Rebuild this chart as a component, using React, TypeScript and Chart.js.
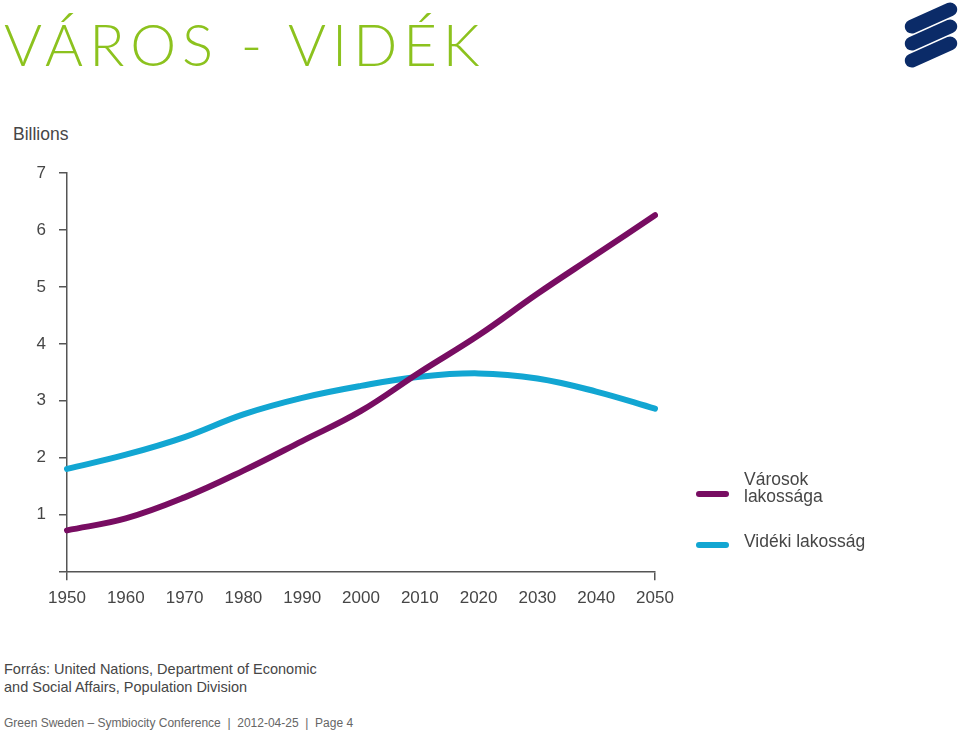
import React, { useEffect, useRef } from "react";
import { Chart, registerables } from "chart.js";

Chart.register(...registerables);

const years = ["1950", "1960", "1970", "1980", "1990", "2000", "2010", "2020", "2030", "2040", "2050"];
const urban = [0.72, 0.93, 1.3, 1.77, 2.29, 2.82, 3.5, 4.15, 4.88, 5.57, 6.26];
const rural = [1.8, 2.05, 2.36, 2.76, 3.05, 3.26, 3.42, 3.48, 3.39, 3.16, 2.86];
const yTicks = [0, 1, 2, 3, 4, 5, 6, 7];

const PURPLE = "#780d62";
const CYAN = "#12a6d2";
const AXIS = "#555555";
const TEXT = "#464646";
const FONT = "'Liberation Sans', Arial, sans-serif";

export default function App() {
  const ref = useRef<HTMLCanvasElement | null>(null);

  useEffect(() => {
    if (!ref.current) return;
    const chart = new Chart(ref.current, {
      type: "line",
      data: {
        labels: years,
        datasets: [
          {
            label: "Városok lakossága",
            data: urban,
            borderColor: PURPLE,
            borderWidth: 6,
            borderCapStyle: "round",
            pointRadius: 0,
            tension: 0.4,
            fill: false,
          },
          {
            label: "Vidéki lakosság",
            data: rural,
            borderColor: CYAN,
            borderWidth: 6,
            borderCapStyle: "round",
            pointRadius: 0,
            tension: 0.4,
            fill: false,
          },
        ],
      },
      options: {
        animation: false,
        responsive: false,
        maintainAspectRatio: false,
        layout: { padding: { top: 20, right: 45, left: 0, bottom: 0 } },
        plugins: { legend: { display: false }, tooltip: { enabled: false } },
        scales: {
          x: {
            type: "category",
            offset: false,
            border: { color: AXIS, width: 1.5 },
            grid: {
              drawOnChartArea: false,
              tickLength: 9,
              color: (ctx: any) => (ctx.index === 0 || ctx.index === years.length - 1 ? AXIS : "rgba(0,0,0,0)"),
              lineWidth: 1.5,
            },
            ticks: {
              color: TEXT,
              font: { family: FONT, size: 17 },
              padding: 8,
              maxRotation: 0,
              autoSkip: false,
            },
            afterFit: (scale: any) => {
              scale.height = 48.7;
            },
          },
          y: {
            min: yTicks[0],
            max: yTicks[yTicks.length - 1],
            border: { color: AXIS, width: 1.5 },
            grid: { drawOnChartArea: false, tickLength: 8, color: AXIS, lineWidth: 1.5 },
            ticks: {
              stepSize: 1,
              color: TEXT,
              font: { family: FONT, size: 17 },
              padding: 13,
              callback: (v: any) => (v === 0 ? "" : String(v)),
            },
            afterFit: (scale: any) => {
              scale.width = 67;
            },
          },
        },
      },
    });
    return () => chart.destroy();
  }, []);

  const bar = (top: number): React.CSSProperties => ({
    position: "absolute",
    left: 903,
    top,
    width: 56,
    height: 14,
    borderRadius: 7,
    background: "#0b2b68",
    transform: "rotate(-24deg)",
  });

  const legendLine = (top: number, color: string): React.CSSProperties => ({
    position: "absolute",
    left: 696,
    top,
    width: 33,
    height: 6,
    borderRadius: 3,
    background: color,
  });

  return (
    <div
      style={{
        position: "absolute",
        left: 0,
        top: 0,
        width: 959,
        height: 732,
        background: "#ffffff",
        overflow: "hidden",
        fontFamily: FONT,
      }}
    >
      <div
        style={{
          position: "absolute",
          left: 4,
          top: 2,
          fontFamily: "Lato, sans-serif",
          fontWeight: 300,
          fontSize: 58,
          lineHeight: "84px",
          color: "#8cc21e",
          letterSpacing: 6,
          whiteSpace: "nowrap",
        }}
      >
        VÁROS - VIDÉK
      </div>
      <div style={bar(11)} />
      <div style={bar(28)} />
      <div style={bar(45)} />

      <div style={{ position: "absolute", left: 13, top: 124, fontSize: 17.5, color: TEXT, lineHeight: "20px" }}>
        Billions
      </div>

      <canvas ref={ref} width={700} height={470} style={{ position: "absolute", left: 0, top: 150, width: 700, height: 470 }} />

      <div style={legendLine(491, PURPLE)} />
      <div style={{ position: "absolute", left: 744, top: 471, fontSize: 17.5, color: TEXT, lineHeight: "17px" }}>
        Városok
        <br />
        lakossága
      </div>
      <div style={legendLine(542, CYAN)} />
      <div style={{ position: "absolute", left: 744, top: 531, fontSize: 17.5, color: TEXT, lineHeight: "20px", whiteSpace: "nowrap" }}>
        Vidéki lakosság
      </div>

      <div style={{ position: "absolute", left: 4, top: 660, fontSize: 14.5, color: TEXT, lineHeight: "18px" }}>
        Forrás: United Nations, Department of Economic
        <br />
        and Social Affairs, Population Division
      </div>
      <div style={{ position: "absolute", left: 4, top: 715, fontSize: 12, color: "#666666", lineHeight: "16px", whiteSpace: "nowrap" }}>
        Green Sweden – Symbiocity Conference &nbsp;| &nbsp;2012-04-25 &nbsp;| &nbsp;Page 4
      </div>
    </div>
  );
}
